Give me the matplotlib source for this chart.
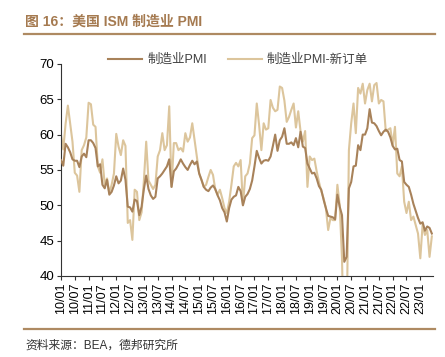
import matplotlib
matplotlib.use("Agg")
import matplotlib.pyplot as plt
from matplotlib.lines import Line2D

plt.rcParams["font.family"] = ["Liberation Sans", "Noto Sans CJK SC", "DejaVu Sans"]

# 月度数据 2010/01 - 2023/06
pmi = [
    56.4, 55.6, 58.7, 58.2, 57.5, 56.5, 56.3, 56.3, 55.4, 56.9, 57.3, 56.8,  # 2010
    59.2, 59.2, 58.8, 58.1, 55.5, 55.8, 52.9, 52.4, 53.6, 51.5, 51.9, 52.8,  # 2011
    54.1, 53.1, 53.5, 55.2, 53.6, 49.8, 49.7, 49.1, 50.8, 50.6, 48.6, 49.8,  # 2012
    52.3, 54.2, 52.3, 51.4, 50.9, 51.2, 53.8, 54.1, 54.5, 55.0, 55.5, 56.5,  # 2013
    52.6, 54.8, 55.2, 55.8, 56.5, 55.9, 55.4, 55.0, 55.7, 56.3, 55.8, 56.2,  # 2014
    54.5, 53.6, 52.6, 52.2, 52.0, 52.5, 52.8, 52.3, 51.4, 50.7, 49.6, 49.0,  # 2015
    47.7, 49.6, 50.8, 51.2, 51.4, 52.6, 52.0, 50.0, 51.2, 51.6, 52.3, 53.5,  # 2016
    55.5, 57.7, 56.7, 55.9, 56.3, 56.4, 56.3, 56.9, 58.4, 60.0, 57.7, 59.2,  # 2017
    59.7, 60.9, 58.7, 58.7, 58.9, 58.5, 59.5, 58.2, 60.4, 58.3, 58.1, 55.9,  # 2018
    55.2, 54.5, 54.6, 53.8, 52.7, 52.2, 50.8, 49.6, 48.5, 48.4, 48.3, 48.0,  # 2019
    51.5, 49.8, 48.6, 42.0, 42.7, 52.4, 53.3, 55.5, 55.6, 58.5, 57.8, 60.0,  # 2020
    60.0, 60.9, 63.6, 61.7, 61.6, 61.2, 60.5, 59.9, 60.4, 60.7, 60.4, 59.6,  # 2021
    58.4, 57.9, 58.0, 56.4, 56.2, 53.3, 52.9, 52.6, 51.5, 50.2, 49.2, 48.2,  # 2022
    47.4, 47.6, 46.4, 47.0, 46.8, 46.0,                                      # 2023
]

new_orders = [
    60.0, 57.9, 61.5, 64.1, 61.6, 59.0, 54.6, 54.2, 51.9, 57.8, 58.5, 59.6,  # 2010
    64.5, 64.3, 61.4, 61.1, 55.5, 54.6, 56.5, 52.9, 53.8, 51.7, 52.9, 54.5,  # 2011
    60.1, 58.3, 57.1, 59.2, 58.4, 47.5, 47.9, 45.1, 52.2, 51.9, 47.9, 49.0,  # 2012
    53.5, 59.0, 53.5, 52.9, 52.3, 52.9, 56.9, 57.8, 60.2, 57.8, 58.5, 64.0,  # 2013
    52.6, 58.8, 58.8, 57.8, 58.1, 57.6, 60.2, 59.0, 59.6, 61.6, 59.2, 56.7,  # 2014
    54.5, 53.6, 52.6, 52.9, 54.0, 55.0, 54.3, 52.2, 51.5, 52.2, 51.0, 49.6,  # 2015
    48.9, 50.5, 52.9, 55.5, 56.0, 55.5, 56.4, 50.0, 54.1, 54.5, 55.9, 59.5,  # 2016
    59.9, 64.4, 61.4, 57.8, 61.6, 60.7, 60.9, 64.9, 63.8, 63.3, 63.5, 66.8,  # 2017
    66.6, 64.8, 61.8, 62.5, 63.5, 64.4, 61.0, 63.3, 60.5, 59.0, 60.5, 52.6,  # 2018
    56.9, 56.4, 56.6, 54.8, 53.3, 52.0, 51.0, 49.6, 46.5, 48.2, 47.9, 47.9,  # 2019
    52.9, 50.0, 42.5, 27.1, 31.8, 57.8, 61.6, 64.4, 60.2, 66.6, 65.8, 67.2,  # 2020
    64.4, 66.3, 67.2, 64.7, 67.0, 67.3, 64.4, 64.9, 64.7, 60.5, 60.7, 60.9,  # 2021
    58.5, 61.1, 54.5, 54.1, 55.5, 50.5, 48.9, 50.5, 47.9, 48.4, 47.2, 46.0,  # 2022
    42.5, 47.3, 45.8, 46.5, 42.7, 45.6,                                      # 2023
]

tick_labels = [
    "10/01", "10/07", "11/01", "11/07", "12/01", "12/07", "13/01", "13/07",
    "14/01", "14/07", "15/01", "15/07", "16/01", "16/07", "17/01", "17/07",
    "18/01", "18/07", "19/01", "19/07", "20/01", "20/07", "21/01", "21/07",
    "22/01", "22/07", "23/01",
]

months = list(range(len(pmi)))
tick_pos = [i * 6 for i in range(len(tick_labels))]

dark = "#a8825a"
light = "#dcc59c"
accent = "#ae8a62"

fig = plt.figure(figsize=(4.45, 3.57), dpi=100)
ax = fig.add_axes([0.137, 0.227, 0.836, 0.594])

ax.plot(months, pmi, color=dark, linewidth=1.5, label="制造业PMI", zorder=3)
ax.plot(months, new_orders, color=light, linewidth=1.5, label="制造业PMI-新订单", zorder=2)

ax.set_ylim(40, 70)
ax.set_yticks([40, 45, 50, 55, 60, 65, 70])
ax.set_xlim(0, 161.5)
ax.set_xticks(tick_pos)
ax.set_xticklabels(tick_labels, rotation=90, fontsize=9)
ax.tick_params(axis="y", labelsize=9.5, length=3, width=0.8, color="#333333", pad=2)
ax.tick_params(axis="x", length=3, width=0.8, color="#333333", pad=2)

for side in ("top", "right"):
    ax.spines[side].set_visible(False)
for side in ("left", "bottom"):
    ax.spines[side].set_color("#333333")
    ax.spines[side].set_linewidth(0.8)

fig.legend(
    loc="center",
    bbox_to_anchor=(0.535, 0.832),
    ncol=2,
    frameon=False,
    fontsize=9,
    handlelength=2.7,
    handletextpad=0.4,
    columnspacing=1.7,
    labelcolor="#404040",
)

# 标题和来源
fig.text(25 / 445, 1 - 22 / 357, "图 16：美国 ISM 制造业 PMI", fontsize=10,
         fontweight="bold", color="#a57a50", va="center", ha="left")
fig.add_artist(Line2D([24 / 445, 435 / 445], [1 - 33.5 / 357, 1 - 33.5 / 357],
                      color=accent, linewidth=1.6))
fig.add_artist(Line2D([24 / 445, 435 / 445], [1 - 328.5 / 357, 1 - 328.5 / 357],
                      color=accent, linewidth=1.6))
fig.text(25 / 445, 1 - 346 / 357, "资料来源：BEA，德邦研究所", fontsize=8.5,
         color="#333333", va="center", ha="left")

fig.savefig("out.png", dpi=100)
